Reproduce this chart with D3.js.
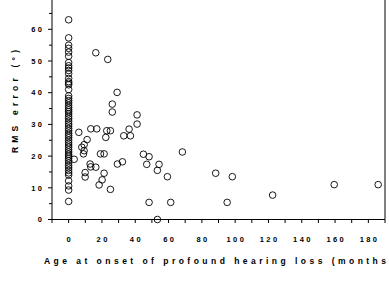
<!DOCTYPE html>
<html><head><meta charset="utf-8">
<script src="https://cdn.jsdelivr.net/npm/d3@7/dist/d3.min.js"></script>
<style>html,body{margin:0;padding:0;background:#fff;overflow:hidden}svg{display:block}</style>
</head><body>
<script>
// RMS error for participants with onset at 0 months
const zeroOnsetErrors = [63, 57.3, 55, 54, 52.8, 51.5, 49.5, 48.5, 47.8, 47, 46, 44.5, 43.5, 43, 42.5, 41, 39, 38.2, 37.5, 36.8, 36, 35.3, 34.6, 34, 33.3, 32.5, 31.8, 31, 30.2, 29.5, 28.7, 28, 27.2, 26.5, 25.8, 25, 24.2, 23.5, 22.8, 22, 21.3, 20.6, 20, 19.3, 18.6, 17.8, 17, 16.3, 15.5, 14.7, 14, 12.2, 10.6, 9.3, 5.7];
// Other participants: onset age (months) and RMS error (deg)
const onsetMonths = [3.3, 6.1, 7.9, 9.3, 9.3, 8.9, 11.1, 13.3, 16.9, 22.9, 25.1, 22.3, 12.9, 13.3, 16.3, 9.9, 9.9, 19.1, 21.3, 21.3, 20.1, 18.3, 25.1, 29.3, 32.3, 33.1, 37.1, 36.3, 26.2, 26.2, 29.1, 41.1, 41.1, 16.3, 23.5, 44.9, 48.3, 46.9, 54.3, 53.3, 59.3, 68.3, 48.3, 61.3, 53.3, 88.3, 98.3, 95.2, 122.5, 159.5, 185.9];
const rmsErrors   = [19.0, 27.5, 22.8, 23.6, 21.7, 20.7, 25.2, 28.6, 28.6, 28.0, 28.0, 25.9, 17.5, 16.6, 16.5, 14.8, 13.4, 20.7, 20.7, 14.6, 12.5, 10.9, 9.5, 17.5, 18.2, 26.4, 26.4, 28.5, 36.4, 33.9, 40.1, 33.0, 30.1, 52.6, 50.5, 20.6, 19.8, 17.4, 17.4, 15.5, 13.5, 21.3, 5.4, 5.4, 0, 14.6, 13.5, 5.4, 7.7, 11.0, 11.0];
const xTickLabels = [0, 20, 40, 60, 80, 100, 120, 140, 160, 180];
const yTickLabels = [0, 10, 20, 30, 40, 50, 60, 70];
const xTitle = "Age at onset of profound hearing loss (months";
const yTitle = "RMS error (°)";

const W = 389, H = 299;
const svg = d3.select("body").append("svg").attr("width", W).attr("height", H);
const x = d3.scaleLinear().domain([-10, 190]).range([52, 385]);
const y = d3.scaleLinear().domain([0, 70]).range([219.5, -2.4]);
const font = "'Liberation Sans', Arial, sans-serif";

const points = zeroOnsetErrors.map(v => ({m: 0, v}))
  .concat(onsetMonths.map((m, i) => ({m, v: rmsErrors[i]})));

// axes lines
svg.append("line").attr("x1", x(-10)).attr("x2", x(190)).attr("y1", y(0)).attr("y2", y(0))
  .attr("stroke", "#000").attr("stroke-width", 1);
svg.append("line").attr("x1", x(-10)).attr("x2", x(-10)).attr("y1", y(0)).attr("y2", 0)
  .attr("stroke", "#000").attr("stroke-width", 1);
svg.append("line").attr("x1", x(190)).attr("x2", x(190)).attr("y1", y(0)).attr("y2", 0)
  .attr("stroke", "#000").attr("stroke-width", 1);

// x ticks
const xMinor = d3.range(-10, 191, 10);
svg.selectAll(".xt").data(xMinor).enter().append("line")
  .attr("x1", d => x(d)).attr("x2", d => x(d)).attr("y1", y(0)).attr("y2", y(0) + 3.5)
  .attr("stroke", "#000").attr("stroke-width", 1);
svg.selectAll(".xl").data(xTickLabels).enter().append("text")
  .attr("x", d => x(d) + 1.2).attr("y", 242)
  .attr("text-anchor", "middle").attr("font-family", font).attr("font-weight", "bold")
  .attr("font-size", "7.5px").attr("letter-spacing", "2.4px").text(d => d);

// y ticks
const yMinor = d3.range(0, 71, 5);
svg.selectAll(".yt").data(yMinor).enter().append("line")
  .attr("x1", x(-10)).attr("x2", d => x(-10) - (d % 10 === 0 ? 4 : 3))
  .attr("y1", d => y(d)).attr("y2", d => y(d))
  .attr("stroke", "#000").attr("stroke-width", 1);
svg.selectAll(".yl").data(yTickLabels).enter().append("text")
  .attr("x", 42 + 2.4).attr("y", d => y(d) + 2.7)
  .attr("text-anchor", "end").attr("font-family", font).attr("font-weight", "bold")
  .attr("font-size", "7.5px").attr("letter-spacing", "2.4px").text(d => d);

// points
svg.selectAll("circle").data(points).enter().append("circle")
  .attr("cx", d => x(d.m)).attr("cy", d => y(d.v)).attr("r", 3.3)
  .attr("fill", "none").attr("stroke", "#000").attr("stroke-width", 0.9);

// titles
svg.append("text").attr("x", 44).attr("y", 263.5)
  .attr("font-family", font).attr("font-weight", "bold").attr("font-size", "8.5px")
  .attr("textLength", 342).attr("lengthAdjust", "spacing").text(xTitle);
svg.append("text").attr("transform", "translate(17.5,153) rotate(-90)")
  .attr("font-family", font).attr("font-weight", "bold").attr("font-size", "8.5px")
  .attr("textLength", 103).attr("lengthAdjust", "spacing").text(yTitle);
</script>
</body></html>
